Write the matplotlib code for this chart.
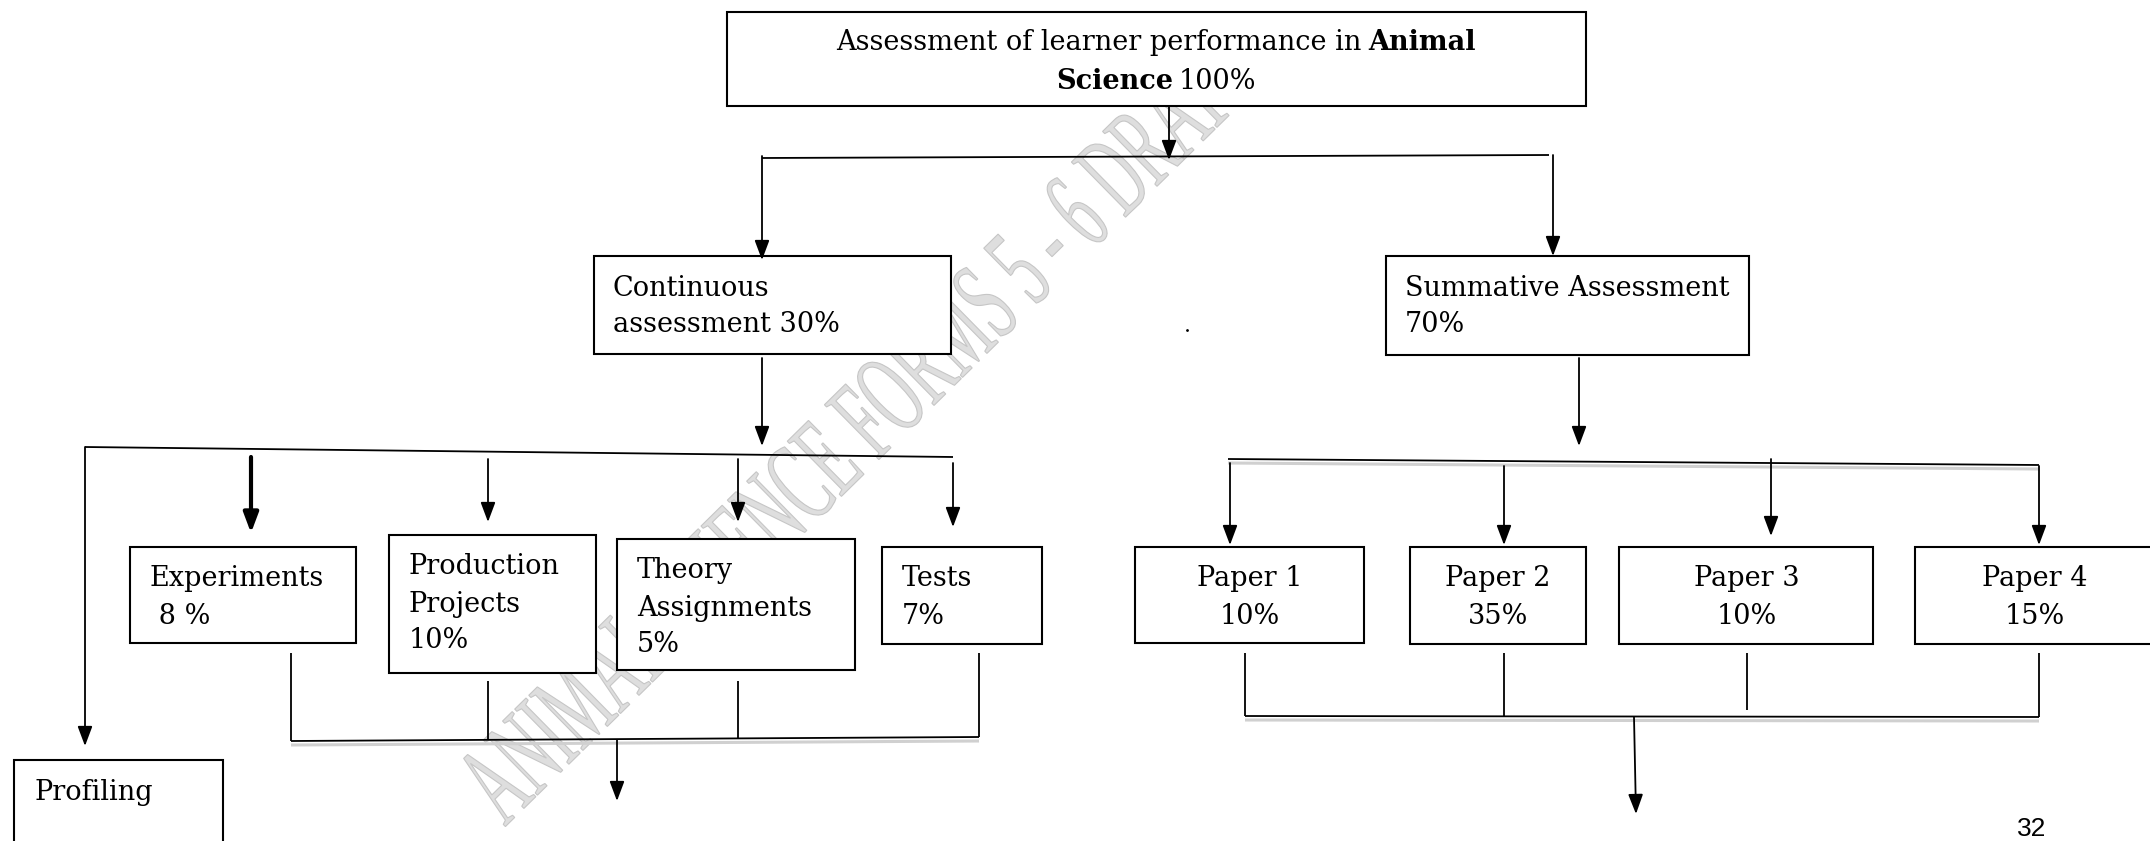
import matplotlib
matplotlib.use("Agg")
import matplotlib.pyplot as plt
from matplotlib.patches import Rectangle, PathPatch
from matplotlib.textpath import TextPath
from matplotlib.font_manager import FontProperties
from matplotlib.transforms import Affine2D, IdentityTransform

# chart content
total_title = "Assessment of learner performance in"
subject = ["Animal", "Science"]
total_pct = 100
branch_names = [["Continuous", "assessment"], ["Summative Assessment"]]
branch_pct = [30, 70]
ca_parts = [["Experiments"], ["Production", "Projects"], ["Theory", "Assignments"], ["Tests"]]
ca_pct = [8, 10, 5, 7]
papers = ["Paper 1", "Paper 2", "Paper 3", "Paper 4"]
paper_pct = [10, 35, 10, 15]
extra_part = "Profiling"
page_no = "32"
watermark = "ANIMAL SCIENCE FORMS 5 - 6 DRAFT"

W, H = 2150, 841
SERIF = "DejaVu Serif"
FS = 19.5
STEP = 37

fig = plt.figure(figsize=(W / 100, H / 100), dpi=100)
ax = fig.add_axes([0, 0, 1, 1])
ax.set_xlim(0, W)
ax.set_ylim(H, 0)
ax.axis("off")
r = fig.canvas.get_renderer()

# watermark (drawn in pixel coords, y up), stretched so the "5" lands where it is in the page
wm_font = FontProperties(family="Liberation Serif")
tp = TextPath((0, 0), watermark, size=100, prop=wm_font)
upto5 = TextPath((0, 0), watermark[:watermark.index("5") + 1], size=100, prop=wm_font).get_extents()
w5 = TextPath((0, 0), "5", size=100, prop=wm_font).get_extents().width
sx = 758 / (upto5.xmax - w5 / 2)
tr = Affine2D().scale(sx, 1.18).rotate_deg(44.5).translate(505, 14)
ax.add_patch(PathPatch(tr.transform_path(tp), transform=IdentityTransform(),
                       fc="#dedede", ec="#c6c6c6", lw=0.8, zorder=0.5))


def box(x0, y0, x1, y1):
    ax.add_patch(Rectangle((x0, y0), x1 - x0, y1 - y0, fc="white", ec="black", lw=1.5, zorder=2))


def line(x0, y0, x1, y1, lw=1.3, shadow=False):
    if shadow:
        ax.plot([x0, x1], [y0 + 4, y1 + 4], color="#d0d0d0", lw=2.2, zorder=1, solid_capstyle="butt")
    ax.plot([x0, x1], [y0, y1], color="black", lw=lw, zorder=3, solid_capstyle="butt")


def arrow(x0, y0, x1, y1, lw=1.3):
    ax.annotate("", xy=(x1, y1), xytext=(x0, y0),
                arrowprops=dict(arrowstyle="-|>,head_length=1.2,head_width=0.45", lw=lw,
                                color="black", shrinkA=0, shrinkB=0), zorder=3)


def text_lines(x, y0, lines, ha="left"):
    for i, s in enumerate(lines):
        ax.text(x, y0 + i * STEP, s, ha=ha, va="center", fontsize=FS, family=SERIF, zorder=4)


def rich_line(pieces, cx, y, gap=0):
    texts = [ax.text(0, y, s, fontsize=FS, family=SERIF, fontweight=w, va="center", ha="left", zorder=4)
             for s, w in pieces]
    widths = [t.get_window_extent(r).width for t in texts]
    x = cx - (sum(widths) + gap * (len(texts) - 1)) / 2
    for t, wd in zip(texts, widths):
        t.set_x(x)
        x += wd + gap


# top box
box(727, 12, 1586, 106)
rich_line([(total_title, "normal"), (subject[0], "bold")], 1156, 42, gap=7)
rich_line([(subject[1], "bold"), (f"{total_pct}%", "normal")], 1156, 81, gap=5)
arrow(1169, 106, 1169, 160)
line(762, 158, 1549, 155)
arrow(762, 156, 762, 260)
arrow(1553, 155, 1553, 256)

# level 2 boxes
box(594, 256, 951, 354)
text_lines(613, 288, [branch_names[0][0], f"{branch_names[0][1]} {branch_pct[0]}%"])
box(1386, 256, 1749, 355)
text_lines(1405, 288, [branch_names[1][0], f"{branch_pct[1]}%"])
ax.plot([1187], [330], marker=".", ms=2, color="black")

# continuous assessment branch
arrow(762, 358, 762, 446)
line(85, 447, 953, 457)
arrow(85, 447, 85, 746)
arrow(251, 457, 251, 533, lw=3)
arrow(488, 459, 488, 522)
arrow(738, 459, 738, 522)
arrow(953, 463, 953, 527)

ca_boxes = [(130, 547, 356, 643), (389, 535, 596, 673), (617, 539, 855, 670), (882, 547, 1042, 644)]
for i, (name, pct, b) in enumerate(zip(ca_parts, ca_pct, ca_boxes)):
    box(*b)
    last = f" {pct} %" if i == 0 else f"{pct}%"
    text_lines(b[0] + 20, b[1] + 32, name + [last])

for x, y0, y1 in [(291, 653, 741), (488, 681, 740), (738, 681, 739), (979, 653, 737)]:
    line(x, y0, x, y1)
line(291, 741, 979, 737, shadow=True)
arrow(617, 740, 617, 801)

box(14, 760, 223, 860)
text_lines(34, 792, [extra_part])

# summative branch
arrow(1579, 358, 1579, 446)
line(1228, 459, 2039, 465, shadow=True)
arrow(1230, 463, 1230, 545)
arrow(1504, 466, 1504, 545)
arrow(1771, 459, 1771, 536)
arrow(2039, 466, 2039, 545)

paper_boxes = [(1135, 547, 1364, 643), (1410, 547, 1586, 644), (1619, 547, 1873, 644), (1915, 547, 2165, 644)]
paper_cx = [1250, 1498, 1747, 2035]
for name, pct, b, cx in zip(papers, paper_pct, paper_boxes, paper_cx):
    box(*b)
    text_lines(cx, b[1] + 32, [name, f"{pct}%"], ha="center")

for x, y0, y1 in [(1245, 653, 716), (1504, 653, 716), (1747, 653, 710), (2039, 653, 717)]:
    line(x, y0, x, y1)
line(1245, 716, 2039, 717, shadow=True)
arrow(1634, 717, 1636, 814)

ax.text(2032, 829, page_no, ha="center", va="center", fontsize=19, family="Liberation Sans")

fig.savefig("out.png", dpi=100, facecolor="white")
